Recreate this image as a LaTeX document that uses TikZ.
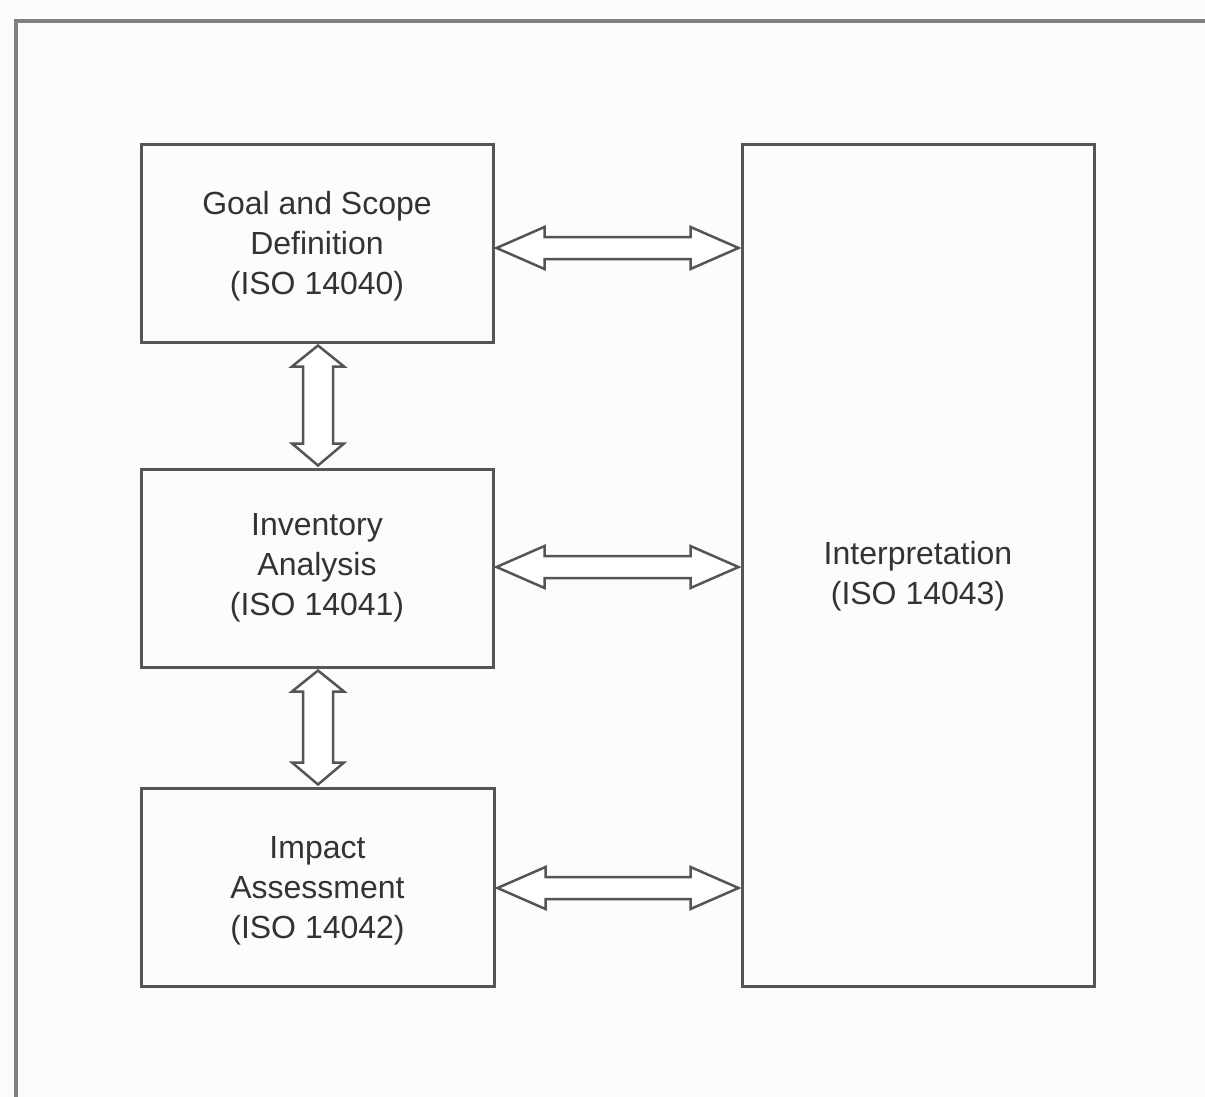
\documentclass[tikz,border=0pt]{standalone}
\usepackage{fontspec}
\setmainfont{Liberation Sans}
\usetikzlibrary{calc}
\definecolor{boxline}{HTML}{555555}
\definecolor{frameline}{HTML}{808080}
\definecolor{txt}{HTML}{333333}
\definecolor{bg}{HTML}{FCFCFC}
\tikzset{
  stage/.style={draw=boxline, line width=3pt, rectangle, inner sep=0pt},
  stagetext/.style={text=txt, align=center, font=\fontsize{32}{40}\selectfont, inner sep=0pt},
  fatarrow/.style={draw=boxline, line width=2.5pt, fill=white, line join=miter},
}
\begin{document}
\begin{tikzpicture}[x=1pt,y=-1pt]
\fill[bg] (0,0) rectangle (1205,1097);
\useasboundingbox (0,0) rectangle (1205,1097);
% outer frame (left and top edges visible)
\draw[frameline, line width=4pt] (16,1100) -- (16,21) -- (1210,21);

\node[stage, minimum width=352pt, minimum height=197pt] (g) at (317,243.5) {};
\node[stagetext] (gt) at (317,246) {Goal and Scope\\Definition\\(ISO 14040)};
\node[stage, minimum width=352pt, minimum height=198pt] (i) at (317,568) {};
\node[stagetext] (it) at (317,568) {Inventory\\Analysis\\(ISO 14041)};
\node[stage, minimum width=353pt, minimum height=198pt] (m) at (317.5,887) {};
\node[stagetext] (mt) at (317.5,891) {Impact\\Assessment\\(ISO 14042)};
\node[stage, minimum width=352pt, minimum height=841pt] (r) at (918,565.5) {};
\node[stagetext] (rt) at (918,576) {Interpretation\\(ISO 14043)};

% horizontal double arrows
\foreach \a/\dy in {g/4.5, i/-1, m/1} {
  \draw[fatarrow] let \p1=($(\a.east)+(0,\dy)$), \p2=(r.west) in
    (\x1+2pt,\y1) -- (\x1+50pt,\y1+21pt) -- (\x1+50pt,\y1+11pt) -- (\x2-50pt,\y1+11pt)
    -- (\x2-50pt,\y1+21pt) -- (\x2-2pt,\y1) -- (\x2-50pt,\y1-21pt) -- (\x2-50pt,\y1-11pt)
    -- (\x1+50pt,\y1-11pt) -- (\x1+50pt,\y1-21pt) -- cycle;
}
% vertical double arrows
\foreach \a/\b in {g/i, i/m} {
  \draw[fatarrow] let \p1=($(\a.south)+(1,0)$), \p2=(\b.north) in
    (\x1,\y1-2pt) -- (\x1+26pt,\y1-23pt) -- (\x1+15pt,\y1-23pt) -- (\x1+15pt,\y2+24pt)
    -- (\x1+26pt,\y2+24pt) -- (\x1,\y2+2pt) -- (\x1-26pt,\y2+24pt) -- (\x1-15pt,\y2+24pt)
    -- (\x1-15pt,\y1-23pt) -- (\x1-26pt,\y1-23pt) -- cycle;
}
\end{tikzpicture}
\end{document}
